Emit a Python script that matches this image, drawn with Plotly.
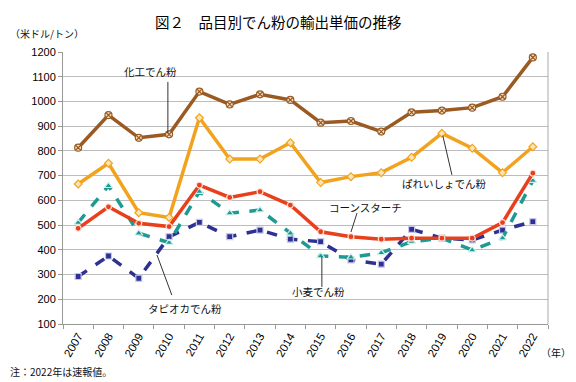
import plotly.graph_objects as go

years = [str(y) for y in range(2007, 2023)]
chemical = [813, 945, 853, 867, 1040, 988, 1029, 1006, 914, 921, 878, 956, 963, 975, 1019, 1178]
potato = [666, 750, 550, 531, 934, 767, 767, 833, 672, 696, 712, 774, 871, 811, 712, 817]
corn = [487, 574, 507, 494, 662, 612, 635, 581, 473, 453, 443, 447, 447, 447, 510, 710]
wheat = [510, 659, 467, 429, 635, 548, 561, 467, 375, 370, 388, 433, 447, 399, 447, 680]
tapioca = [292, 375, 285, 453, 511, 453, 480, 443, 433, 359, 342, 483, 447, 440, 480, 514]

FONT = "Liberation Sans, Noto Sans CJK JP, sans-serif"
JP = "Noto Sans CJK JP, sans-serif"

# page has an 8px body margin; plot area in page pixels: x 63..548, y 52..324
OFF = 8
PL, PR, PT, PB = 63, 548, 52, 324
PW, PH = PR - PL, PB - PT
def px(x):
    return (x - PL) / PW
def py(y):
    return (PB - y) / PH

fig = go.Figure()
def add(vals, color, symbol, dash, mcolor, mline, size=7):
    fig.add_trace(go.Scatter(
        x=years, y=vals, mode="lines+markers",
        line=dict(color=color, width=3.5, dash=dash),
        marker=dict(symbol=symbol, size=size, color=mcolor, line=dict(color=mline, width=1.2)),
        showlegend=False))

add(tapioca, "#2E3192", "square", "dash", "#2E3192", "#C8C8E8", 6)
add(wheat, "#1E9A92", "triangle-up", "dash", "#1E9A92", "#D0F0EE", 7)
add(corn, "#E8401C", "circle", "solid", "#E8401C", "#FFE0D8", 6)
add(potato, "#F2A31E", "diamond", "solid", "#FBE4B8", "#F2A31E", 6)
add(chemical, "#9A5A22", "circle-x", "solid", "#F1DEC6", "#9A5A22", 7)

ann = []
def label(text, x, y):
    ann.append(dict(x=x, y=y, xref="x", yref="y", text=text, showarrow=False,
                    font=dict(family=JP, size=10.5, color="#111")))
label("化工でん粉", 2.4, 1123)
label("ぱれいしょでん粉", 12.1, 670)
label("コーンスターチ", 9.47, 573)
label("小麦でん粉", 7.92, 230)
label("タピオカでん粉", 3.53, 161)

def paper_text(text, x, y, xanchor, size, color="#111", yanchor="middle"):
    ann.append(dict(x=px(x), y=py(y), xref="paper", yref="paper", xanchor=xanchor, yanchor=yanchor,
                    text=text, showarrow=False, font=dict(family=JP, size=size, color=color)))
paper_text("図２　品目別でん粉の輸出単価の推移", 278, OFF + 1, "center", 14.5, "#000", "top")
paper_text("（米ドル/トン）", OFF, 33, "left", 10)
paper_text("（年）", 556, 352, "center", 10)
paper_text("注：2022年は速報値。", OFF, 381, "left", 10, yanchor="bottom")

shapes = []
def seg(x0, y0, x1, y1):
    shapes.append(dict(type="line", xref="x", yref="y", x0=x0, y0=y0, x1=x1, y1=y1,
                       line=dict(color="#333", width=1)))
seg(2.96, 1079, 2.96, 872)
seg(12.03, 862, 12.33, 703)
seg(9.2, 549, 9.0, 472)
seg(8.04, 372, 8.04, 250)
seg(2.6, 379, 3.09, 217)
shapes.append(dict(type="line", xref="paper", yref="paper", x0=1, x1=1, y0=0, y1=1,
                   line=dict(color="#AAAAAA", width=1)))

fig.update_layout(
    width=576 - OFF, height=382 - OFF,
    margin=dict(l=PL - OFF, r=576 - PR, t=PT - OFF, b=382 - PB, autoexpand=False),
    paper_bgcolor="white", plot_bgcolor="white",
    shapes=shapes, annotations=ann,
    font=dict(family=FONT, size=11, color="#000"),
)
fig.update_xaxes(
    type="category", range=[-0.5, 15.5], tickson="boundaries",
    tickangle=-60, showgrid=False, showline=True, linecolor="#999", linewidth=1,
    ticks="outside", ticklen=4, tickcolor="#999", tickfont=dict(family=FONT, size=11.5),
    zeroline=False,
)
fig.update_yaxes(
    range=[100, 1200], tickmode="linear", dtick=100, showgrid=True, gridcolor="#BDBDBD", gridwidth=1,
    showline=True, linecolor="#999", linewidth=1, ticks="outside", ticklen=4, tickcolor="#999",
    tickfont=dict(family=FONT, size=11), zeroline=False,
)
fig.write_html("out.html")
